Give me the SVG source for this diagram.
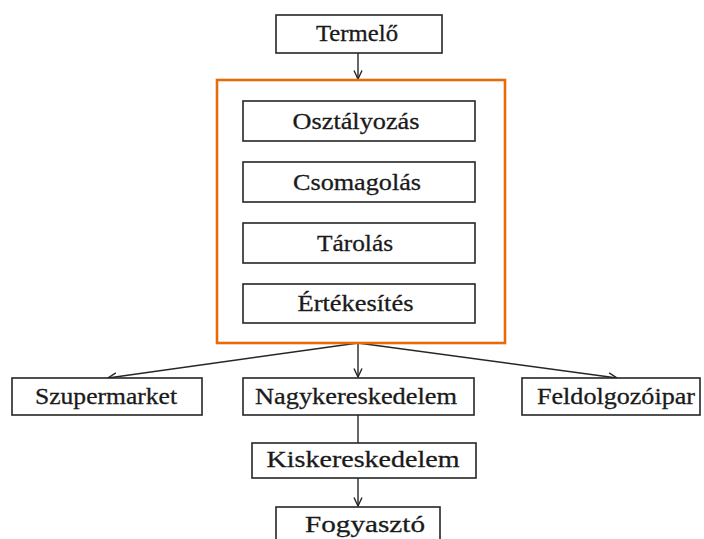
<svg xmlns="http://www.w3.org/2000/svg" width="704" height="539" viewBox="0 0 704 539">
  <style>
    .box { fill: #ffffff; stroke: #262626; stroke-width: 1.6; }
    .group { fill: none; stroke: #E46C0A; stroke-width: 2.6; }
    .lbl { font-family: "Liberation Serif", "Times New Roman", serif; font-size: 23.5px; fill: #1a1a1a; stroke: #1a1a1a; stroke-width: 0.3; text-anchor: middle; }
    .edge { fill: none; stroke: #262626; stroke-width: 1.4; }
  </style>
  <defs>
    <marker id="arrow" viewBox="0 0 10 10" refX="9.5" refY="5" markerWidth="10" markerHeight="10" markerUnits="userSpaceOnUse" orient="auto">
      <polyline points="1,1 9.5,5 1,9" fill="none" stroke="#262626" stroke-width="1.4"/>
    </marker>
  </defs>

  <rect width="704" height="539" fill="#ffffff"/>

  <g id="connectors">
    <line class="edge" x1="358" y1="53" x2="358" y2="79" marker-end="url(#arrow)"/>
    <line class="edge" x1="358" y1="343" x2="108" y2="378" marker-end="url(#arrow)"/>
    <line class="edge" x1="358" y1="343" x2="358" y2="377" marker-end="url(#arrow)"/>
    <line class="edge" x1="358" y1="343" x2="617" y2="378" marker-end="url(#arrow)"/>
    <line class="edge" x1="358" y1="415" x2="358" y2="443"/>
    <line class="edge" x1="358" y1="478" x2="358" y2="506" marker-end="url(#arrow)"/>
  </g>

  <g id="termelo">
    <rect class="box" x="276" y="15" width="166" height="38"/>
    <text class="lbl" x="357" y="41" textLength="82" lengthAdjust="spacingAndGlyphs">Termelő</text>
  </g>

  <g id="feldolgozas">
    <rect class="group" x="217" y="80" width="288" height="263"/>
    <g id="osztalyozas">
      <rect class="box" x="243" y="101" width="232" height="40"/>
      <text class="lbl" x="356" y="129" textLength="127" lengthAdjust="spacingAndGlyphs">Osztályozás</text>
    </g>
    <g id="csomagolas">
      <rect class="box" x="243" y="162" width="232" height="40"/>
      <text class="lbl" x="357" y="190" textLength="128" lengthAdjust="spacingAndGlyphs">Csomagolás</text>
    </g>
    <g id="tarolas">
      <rect class="box" x="243" y="223" width="232" height="40"/>
      <text class="lbl" x="355" y="251" textLength="76" lengthAdjust="spacingAndGlyphs">Tárolás</text>
    </g>
    <g id="ertekesites">
      <rect class="box" x="243" y="284" width="232" height="39"/>
      <text class="lbl" x="355.5" y="311" textLength="116" lengthAdjust="spacingAndGlyphs">Értékesítés</text>
    </g>
  </g>

  <g id="szupermarket">
    <rect class="box" x="12" y="378" width="190" height="37"/>
    <text class="lbl" x="106" y="404" textLength="142" lengthAdjust="spacingAndGlyphs">Szupermarket</text>
  </g>

  <g id="nagykereskedelem">
    <rect class="box" x="243" y="378" width="231" height="37"/>
    <text class="lbl" x="356" y="404" textLength="202" lengthAdjust="spacingAndGlyphs">Nagykereskedelem</text>
  </g>

  <g id="feldolgozoipar">
    <rect class="box" x="522" y="378" width="178" height="37"/>
    <text class="lbl" x="616" y="404" textLength="158" lengthAdjust="spacingAndGlyphs">Feldolgozóipar</text>
  </g>

  <g id="kiskereskedelem">
    <rect class="box" x="252" y="443" width="224" height="35"/>
    <text class="lbl" x="363" y="467" textLength="193" lengthAdjust="spacingAndGlyphs">Kiskereskedelem</text>
  </g>

  <g id="fogyaszto">
    <rect class="box" x="276" y="507" width="164" height="40"/>
    <text class="lbl" x="365" y="532" textLength="120" lengthAdjust="spacingAndGlyphs">Fogyasztó</text>
  </g>
</svg>
